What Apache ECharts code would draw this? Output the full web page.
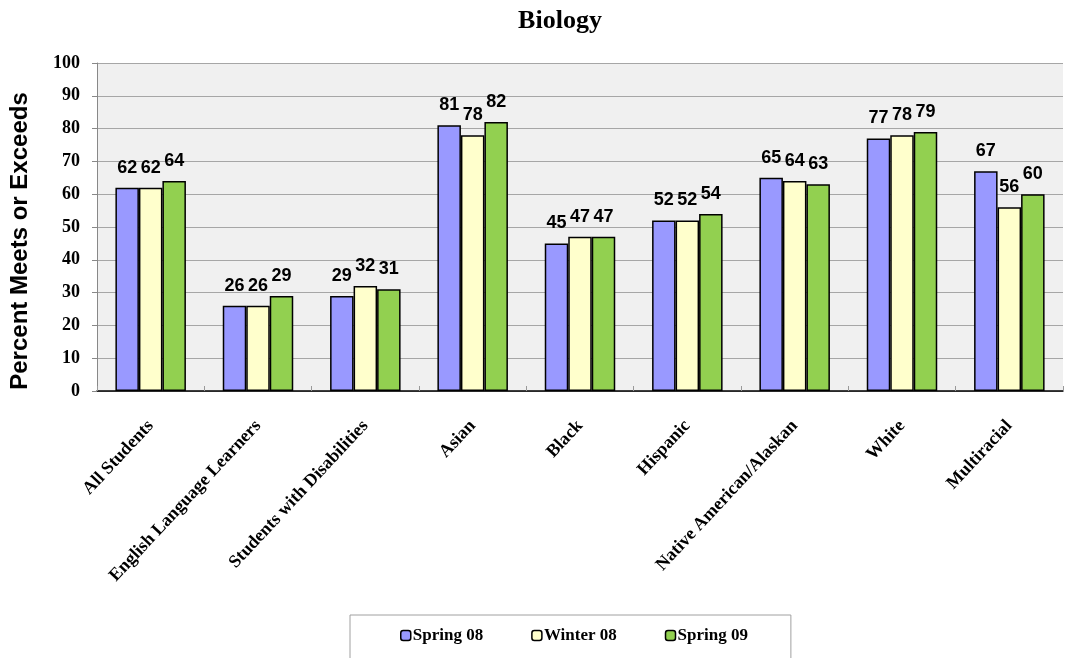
<!DOCTYPE html>
<html><head><meta charset="utf-8">
<script src="https://cdn.jsdelivr.net/npm/echarts@6/dist/echarts.min.js"></script>
<style>html,body{margin:0;padding:0;background:#fff}#c{width:1067px;height:658px}</style>
</head><body><div id="c"></div>
<script>
const categories = ["All Students","English Language Learners","Students with Disabilities","Asian","Black","Hispanic","Native American/Alaskan","White","Multiracial"];
const spring08 = [62,26,29,81,45,52,65,77,67];
const winter08 = [62,26,32,78,47,52,64,78,56];
const spring09 = [64,29,31,82,47,54,63,79,60];
const seriesNames = ["Spring 08","Winter 08","Spring 09"];
const colors = ["#9999FF","#FFFFCC","#92D050"];
const yAxisTitle = "Percent Meets or Exceeds";

const chart = echarts.init(document.getElementById('c'));
const mk = (name, data, color) => ({
  name, type:'bar', data,
  barWidth: 23.5, barGap: '0%',
  itemStyle:{color, borderColor:'#000', borderWidth:1.5},
  label:{show:true, position:'top', distance:11, color:'#000', fontFamily:'Arial, Liberation Sans', fontWeight:'bold', fontSize:18}
});
chart.setOption({
  animation:false,
  title:{text:'Biology', left:555, top:3, textAlign:'center',
    textStyle:{fontFamily:'Liberation Serif, Times New Roman, serif', fontWeight:'bold', fontSize:26, color:'#000'}},
  grid:{left:97, right:4, top:63, bottom:267, show:true, backgroundColor:'#F0F0F0', borderWidth:0},
  legend:{
    data: seriesNames, left:350, top:615, width:450,
    padding:[12,43,22,50], itemGap:48, itemWidth:10, itemHeight:10,
    borderColor:'#A0A0A0', borderWidth:1, backgroundColor:'#fff',
    itemStyle:{borderColor:'#000', borderWidth:1.5},
    textStyle:{fontFamily:'Liberation Serif, Times New Roman, serif', fontWeight:'bold', fontSize:17, color:'#000', padding:[0,0,0,-3]}
  },
  graphic:[{type:'text', x:20, y:241, rotation:Math.PI/2,
    style:{text:yAxisTitle, fill:'#000', font:'bold 24px Arial, "Liberation Sans"', textAlign:'center', textVerticalAlign:'middle'}}],
  xAxis:{
    type:'category', data:categories,
    axisLine:{lineStyle:{color:'#000', width:1.5}},
    axisTick:{show:true, inside:true, length:5, lineStyle:{color:'#999'}},
    axisLabel:{rotate:47, interval:0, margin:32, color:'#000', fontFamily:'Liberation Serif, Times New Roman, serif', fontWeight:'bold', fontSize:18}
  },
  yAxis:{
    type:'value', min:0, max:100, interval:10,
    axisLine:{show:true, lineStyle:{color:'#888'}},
    axisTick:{show:true, length:5, lineStyle:{color:'#888'}},
    splitLine:{lineStyle:{color:'#A6A6A6', width:1}},
    axisLabel:{margin:17, color:'#000', fontFamily:'Liberation Serif, Times New Roman, serif', fontWeight:'bold', fontSize:18}
  },
  series:[mk(seriesNames[0], spring08, colors[0]), mk(seriesNames[1], winter08, colors[1]), mk(seriesNames[2], spring09, colors[2])]
});
</script></body></html>
